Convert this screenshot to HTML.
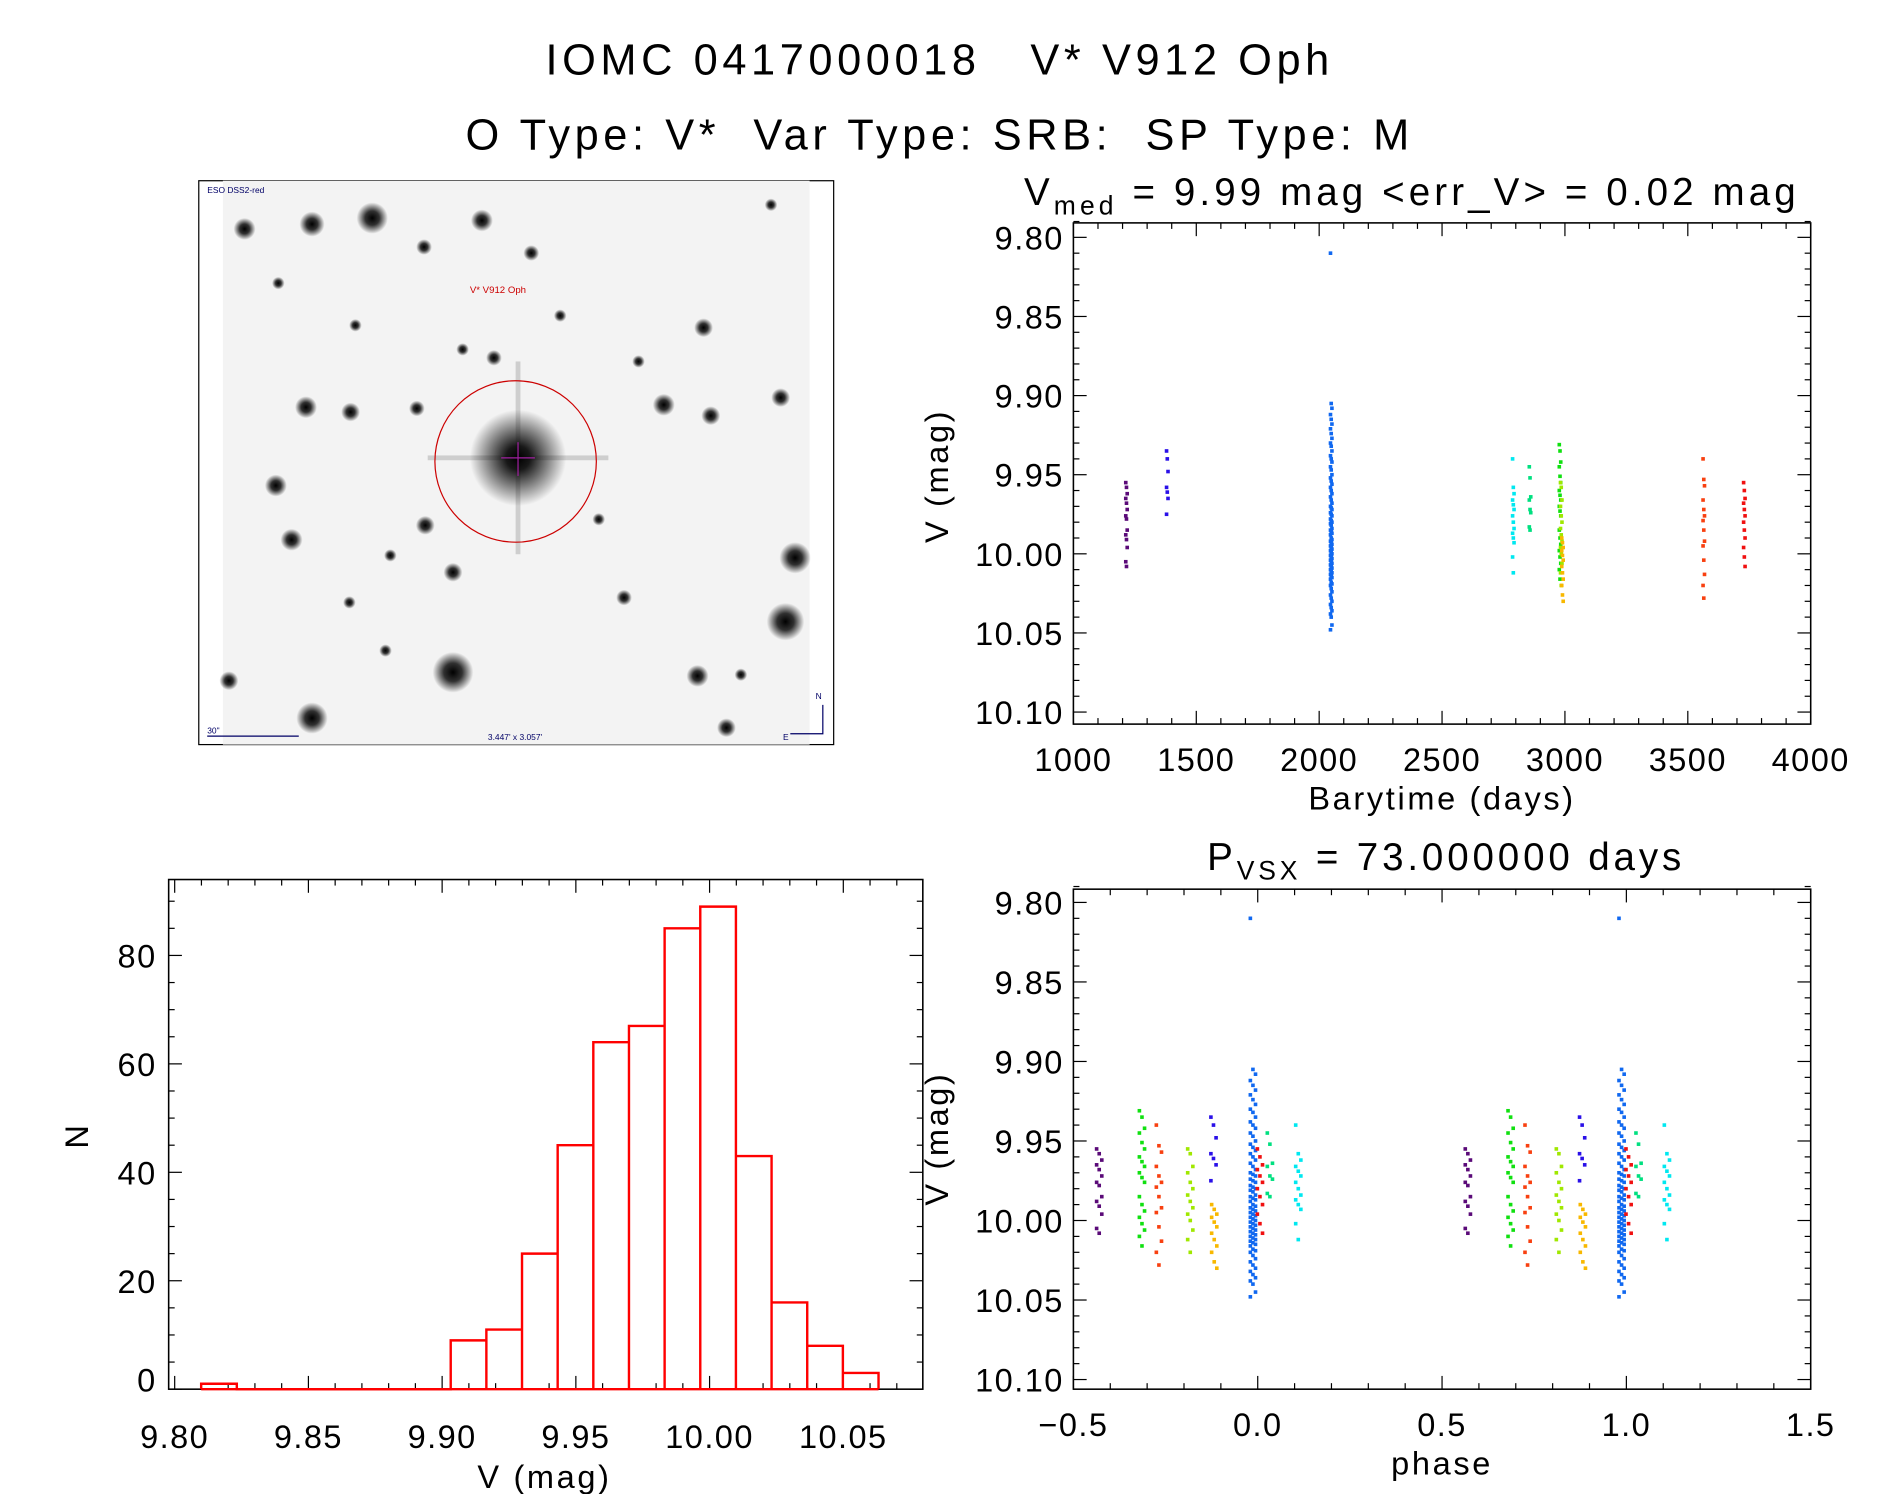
<!DOCTYPE html>
<html><head><meta charset="utf-8">
<style>
html,body{margin:0;padding:0;background:#fff;}
svg{display:block;}
text{font-family:"Liberation Sans",sans-serif;fill:#000;letter-spacing:1.2px;}
.big{letter-spacing:3.8px;}
</style></head>
<body>
<svg id="fig" xmlns="http://www.w3.org/2000/svg" width="1889" height="1494" viewBox="0 0 1568 1240" preserveAspectRatio="none">
<rect x="0" y="0" width="1568" height="1240" fill="#fff"/>
<text class="big" x="780" y="62" font-size="36" text-anchor="middle" xml:space="preserve">IOMC 0417000018   V* V912 Oph</text>
<text class="big" x="780" y="124" font-size="36" text-anchor="middle" xml:space="preserve">O Type: V*  Var Type: SRB:  SP Type: M</text>

<g>
  <defs>
    <radialGradient id="star"><stop offset="0" stop-color="#000" stop-opacity="1"/><stop offset="0.45" stop-color="#000" stop-opacity="0.8"/><stop offset="1" stop-color="#000" stop-opacity="0"/></radialGradient>
    <radialGradient id="glow"><stop offset="0" stop-color="#000" stop-opacity="1"/><stop offset="0.25" stop-color="#000" stop-opacity="0.9"/><stop offset="1" stop-color="#000" stop-opacity="0"/></radialGradient>
  </defs>
  <rect x="165" y="150" width="527" height="468" fill="none" stroke="#000" stroke-width="1"/>
  <rect x="185" y="150" width="487" height="468" fill="#f3f3f3"/>
  <g id="stars"></g>
  <rect x="355" y="378" width="150" height="4" fill="#000" opacity="0.15"/>
  <rect x="428" y="300" width="4" height="160" fill="#000" opacity="0.15"/>
  <circle cx="430" cy="380" r="40" fill="url(#glow)"/>
  <ellipse cx="428" cy="383" rx="67" ry="67" fill="none" stroke="#c00" stroke-width="1"/>
  <line x1="416" y1="380" x2="444" y2="380" stroke="#a020a0" stroke-width="1"/>
  <line x1="430" y1="367" x2="430" y2="395" stroke="#a020a0" stroke-width="1"/>
  <text x="390" y="243" font-size="8" style="fill:#c00;letter-spacing:0">V* V912 Oph</text>
  <text x="172" y="160" font-size="7" style="fill:#006;letter-spacing:0">ESO DSS2-red</text>
  <text x="172" y="609" font-size="7" style="fill:#006;letter-spacing:0">30"</text>
  <line x1="172" y1="611" x2="248" y2="611" stroke="#006"/>
  <text x="405" y="614" font-size="7" style="fill:#006;letter-spacing:0">3.447' x 3.057'</text>
  <polyline points="656,609 683,609 683,585" fill="none" stroke="#006"/>
  <text x="677" y="580" font-size="7" style="fill:#006;letter-spacing:0">N</text>
  <text x="650" y="614" font-size="7" style="fill:#006;letter-spacing:0">E</text>
</g>

<g id="top-plot"></g>
<g id="phase-plot"></g>
<g id="hist-plot"></g>
</svg>
<script>
// ---------- data ----------
const histCounts = [1,0,0,0,0,0,0,9,11,25,45,64,67,85,89,43,16,8,3];
const histStart = 9.8099;
const histBinWidth = 0.01333;
const histXTicks = [9.80,9.85,9.90,9.95,10.00,10.05];
const histYTicks = [0,20,40,60,80];

const magTicks = [9.80,9.85,9.90,9.95,10.00,10.05,10.10];
const timeTicks = [1000,1500,2000,2500,3000,3500,4000];
const phaseTicks = [-0.5,0.0,0.5,1.0,1.5];

const groupColors = ['#5a0a78','#2a10e8','#1068f0','#00e8f0','#00e080','#10e010','#a0e800','#f8b800','#f84010','#f01010'];
const groupTimes  = [1216,1382,2049,2790,2858,2980,2985,2990,3565,3730];
const groupPhases = [-0.43,-0.12,-0.013,0.11,0.033,-0.314,-0.183,-0.118,-0.268,0.006];
const magPurple = [9.955,9.958,9.962,9.965,9.968,9.972,9.976,9.978,9.985,9.988,9.991,9.996,10.005,10.008];
const magBlue = [9.935,9.94,9.948,9.958,9.961,9.965,9.975];
const magDodger = [9.81,9.905,9.908,9.912,9.915,9.918,9.921,9.924,9.927,9.93,9.932,9.935,9.938,9.94,9.942,9.945,9.947,9.95,9.952,9.954,9.956,9.958,9.96,9.962,9.964,9.966,9.968,9.97,9.971,9.972,9.974,9.975,9.976,9.978,9.979,9.98,9.981,9.982,9.984,9.985,9.986,9.987,9.988,9.99,9.991,9.992,9.993,9.994,9.995,9.996,9.997,9.998,9.999,10.0,10.001,10.002,10.003,10.004,10.005,10.006,10.007,10.008,10.009,10.01,10.011,10.012,10.013,10.014,10.015,10.016,10.018,10.019,10.02,10.022,10.024,10.026,10.028,10.03,10.032,10.034,10.036,10.038,10.04,10.045,10.048];
const magCyan = [9.94,9.958,9.962,9.966,9.969,9.972,9.976,9.98,9.984,9.987,9.99,9.993,10.002,10.012];
const magSpring = [9.945,9.952,9.964,9.966,9.972,9.974,9.983,9.985];
const magGreen = [9.931,9.935,9.942,9.945,9.951,9.955,9.96,9.963,9.966,9.97,9.973,9.976,9.985,9.99,9.994,9.998,10.002,10.006,10.01,10.016];
const magYellowGreen = [9.955,9.958,9.966,9.97,9.976,9.98,9.984,9.988,9.992,9.996,10.0,10.006,10.012,10.02];
const magOrange = [9.99,9.993,9.996,9.998,10.001,10.004,10.008,10.012,10.016,10.02,10.026,10.03];
const magOrangeRed = [9.94,9.953,9.957,9.966,9.972,9.976,9.979,9.985,9.992,9.995,10.004,10.013,10.02,10.028];
const magRed = [9.955,9.96,9.965,9.968,9.972,9.976,9.98,9.985,9.99,9.996,10.002,10.008];
const groupMags = [magPurple,magBlue,magDodger,magCyan,magSpring,magGreen,magYellowGreen,magOrange,magOrangeRed,magRed];

const starX = [309,259,203,400,352,441,584,254,291,346,551,590,648,229,353,242,376,660,652,376,579,259,603,410,384,324,497,518,231,295,465,530,190,640,615,320,290];
const starY = [181,186,190,183,205,210,272,338,342,339,336,345,330,403,436,448,475,463,516,558,561,596,604,297,290,461,431,496,235,270,262,300,565,170,560,540,500];
const starR = [10,8,7,7,5,5,6,7,6,5,7,6,6,7,6,7,6,10,12,13,7,10,6,5,4,4,4,5,4,4,4,4,6,4,4,4,4];

const NS='http://www.w3.org/2000/svg';
function mk(parent, tag, attrs, txt){
  const e=document.createElementNS(NS,tag);
  for(const k in attrs) e.setAttribute(k,attrs[k]);
  if(txt!==undefined) e.textContent=txt;
  parent.appendChild(e); return e;
}

const sg=document.getElementById('stars');
for(let i=0;i<starX.length;i++){
  const c=mk(sg,'circle',{cx:starX[i],cy:starY[i],r:starR[i]*1.3,fill:'url(#star)'});
  
  
}

function axesBox(g,x0,y0,x1,y1){
  mk(g,'rect',{x:x0,y:y0,width:x1-x0,height:y1-y0,fill:'none',stroke:'#000','stroke-width':1.3});
}

function magAxis(g,x0,x1,yM){
  for(let m=9.79;m<=10.1001;m+=0.01){
    const v=Math.round(m*100)/100;
    const major=Math.abs(v*20-Math.round(v*20))<1e-6;
    const L=major?11:5;
    mk(g,'line',{x1:x0,y1:yM(v),x2:x0+L,y2:yM(v),stroke:'#000'});
    mk(g,'line',{x1:x1,y1:yM(v),x2:x1-L,y2:yM(v),stroke:'#000'});
  }
  magTicks.forEach(v=>{
    const t=mk(g,'text',{x:x0-8,y:yM(v)+10,'font-size':27,'text-anchor':'end'},v.toFixed(2));
    
    
  });
}

(function(){
  const g=document.getElementById('top-plot');
  const x0=891,x1=1503,y0=185,y1=601;
  const xS=t=>x0+(t-1000)/3000*(x1-x0);
  const yM=m=>197+(m-9.80)/0.30*(591-197);
  axesBox(g,x0,y0,x1,y1);
  magAxis(g,x0,x1,yM);
  for(let t=1000;t<=4000;t+=100){
    const L=(t%500===0)?11:5;
    mk(g,'line',{x1:xS(t),y1:y1,x2:xS(t),y2:y1-L,stroke:'#000'});
    mk(g,'line',{x1:xS(t),y1:y0,x2:xS(t),y2:y0+L,stroke:'#000'});
  }
  timeTicks.forEach(v=>{
    const t=mk(g,'text',{x:xS(v),y:640,'font-size':27,'text-anchor':'middle'},v);
    
    
  });
  const xl=mk(g,'text',{x:1197,y:672,'font-size':27,'text-anchor':'middle','style':'letter-spacing:2.2px'},'Barytime (days)');
  
  
  const yl=mk(g,'text',{x:787,y:395,'font-size':27,'text-anchor':'middle','style':'letter-spacing:2.2px',transform:'rotate(-90 787 395)'},'V (mag)');
  
  
  const tt=mk(g,'text',{x:850,y:170,'font-size':32,'style':'letter-spacing:3.4px'});
  
  
  tt.innerHTML='V<tspan font-size="22" dy="8">med</tspan><tspan dy="-8"> = 9.99 mag &lt;err_V&gt; = 0.02 mag</tspan>';
  groupMags.forEach((arr,gi)=>{
    arr.forEach((m,i)=>{
      const r=mk(g,'rect',{x:xS(groupTimes[gi])-1.5+((i%3)-1)*0.6,y:yM(m)-1.5,width:3,height:3,fill:groupColors[gi]});
      
      
    });
  });
})();

(function(){
  const g=document.getElementById('phase-plot');
  const x0=891,x1=1503,y0=738,y1=1153;
  const xS=p=>x0+(p+0.5)/2*(x1-x0);
  const yM=m=>749+(m-9.80)/0.30*(1145-749);
  axesBox(g,x0,y0,x1,y1);
  magAxis(g,x0,x1,yM);
  for(let k=0;k<=20;k++){
    const p=-0.5+k*0.1;
    const L=(k%5===0)?11:5;
    mk(g,'line',{x1:xS(p),y1:y1,x2:xS(p),y2:y1-L,stroke:'#000'});
    mk(g,'line',{x1:xS(p),y1:y0,x2:xS(p),y2:y0+L,stroke:'#000'});
  }
  phaseTicks.forEach(v=>{
    const t=mk(g,'text',{x:xS(v),y:1192,'font-size':27,'text-anchor':'middle'},(v<0?'\u2212':'')+Math.abs(v).toFixed(1));
    
    
  });
  const xl=mk(g,'text',{x:1197,y:1224,'font-size':27,'text-anchor':'middle','style':'letter-spacing:2.2px'},'phase');
  
  
  const yl=mk(g,'text',{x:787,y:945,'font-size':27,'text-anchor':'middle','style':'letter-spacing:2.2px',transform:'rotate(-90 787 945)'},'V (mag)');
  
  
  const tt=mk(g,'text',{x:1002,y:722,'font-size':32,'style':'letter-spacing:3.2px'});
  
  
  tt.innerHTML='P<tspan font-size="22" dy="8">VSX</tspan><tspan dy="-8"> = 73.000000 days</tspan>';
  groupMags.forEach((arr,gi)=>{
    arr.forEach((m,i)=>{
      [0,1].forEach(sh=>{
        const p=groupPhases[gi]+sh+((i%3)-1)*0.007;
        const r=mk(g,'rect',{x:xS(p)-1.5,y:yM(m)-1.5,width:3,height:3,fill:groupColors[gi]});
        
        
      });
    });
  });
})();

(function(){
  const g=document.getElementById('hist-plot');
  const x0=140,x1=766,y0=730,y1=1153;
  const xS=m=>145+(m-9.80)/0.05*111;
  const yS=n=>1153-n/20*90;
  axesBox(g,x0,y0,x1,y1);
  for(let k=0;k<=27;k++){
    const m=9.80+k*0.01;
    if(xS(m)>x1) break;
    const L=(k%5===0)?11:5;
    mk(g,'line',{x1:xS(m),y1:y1,x2:xS(m),y2:y1-L,stroke:'#000'});
    mk(g,'line',{x1:xS(m),y1:y0,x2:xS(m),y2:y0+L,stroke:'#000'});
  }
  for(let n=0;n<=90;n+=5){
    const L=(n%20===0)?11:5;
    mk(g,'line',{x1:x0,y1:yS(n),x2:x0+L,y2:yS(n),stroke:'#000'});
    mk(g,'line',{x1:x1,y1:yS(n),x2:x1-L,y2:yS(n),stroke:'#000'});
  }
  histXTicks.forEach(v=>{
    const t=mk(g,'text',{x:xS(v),y:1202,'font-size':27,'text-anchor':'middle'},v.toFixed(2));
    
    
  });
  histYTicks.forEach(v=>{
    const t=mk(g,'text',{x:130,y:yS(v)+(v===0?2:10),'font-size':27,'text-anchor':'end'},v);
    
    
  });
  const xl=mk(g,'text',{x:452,y:1235,'font-size':27,'text-anchor':'middle','style':'letter-spacing:2.2px'},'V (mag)');
  
  
  const yl=mk(g,'text',{x:73,y:943,'font-size':27,'text-anchor':'middle',transform:'rotate(-90 73 943)'},'N');
  
  
  let d='M'+xS(histStart)+' '+yS(0);
  histCounts.forEach((c,i)=>{
    const a=xS(histStart+i*histBinWidth), b=xS(histStart+(i+1)*histBinWidth);
    d+=' L'+a+' '+yS(c)+' L'+b+' '+yS(c)+' L'+b+' '+yS(0);
  });
  const p=mk(g,'path',{d:d,fill:'none',stroke:'#f00','stroke-width':2});
  
  
  const base=mk(g,'line',{x1:xS(histStart),y1:yS(0),x2:xS(histStart+histCounts.length*histBinWidth),y2:yS(0),stroke:'#f00','stroke-width':2});
  
  
})();
</script>
</body></html>
